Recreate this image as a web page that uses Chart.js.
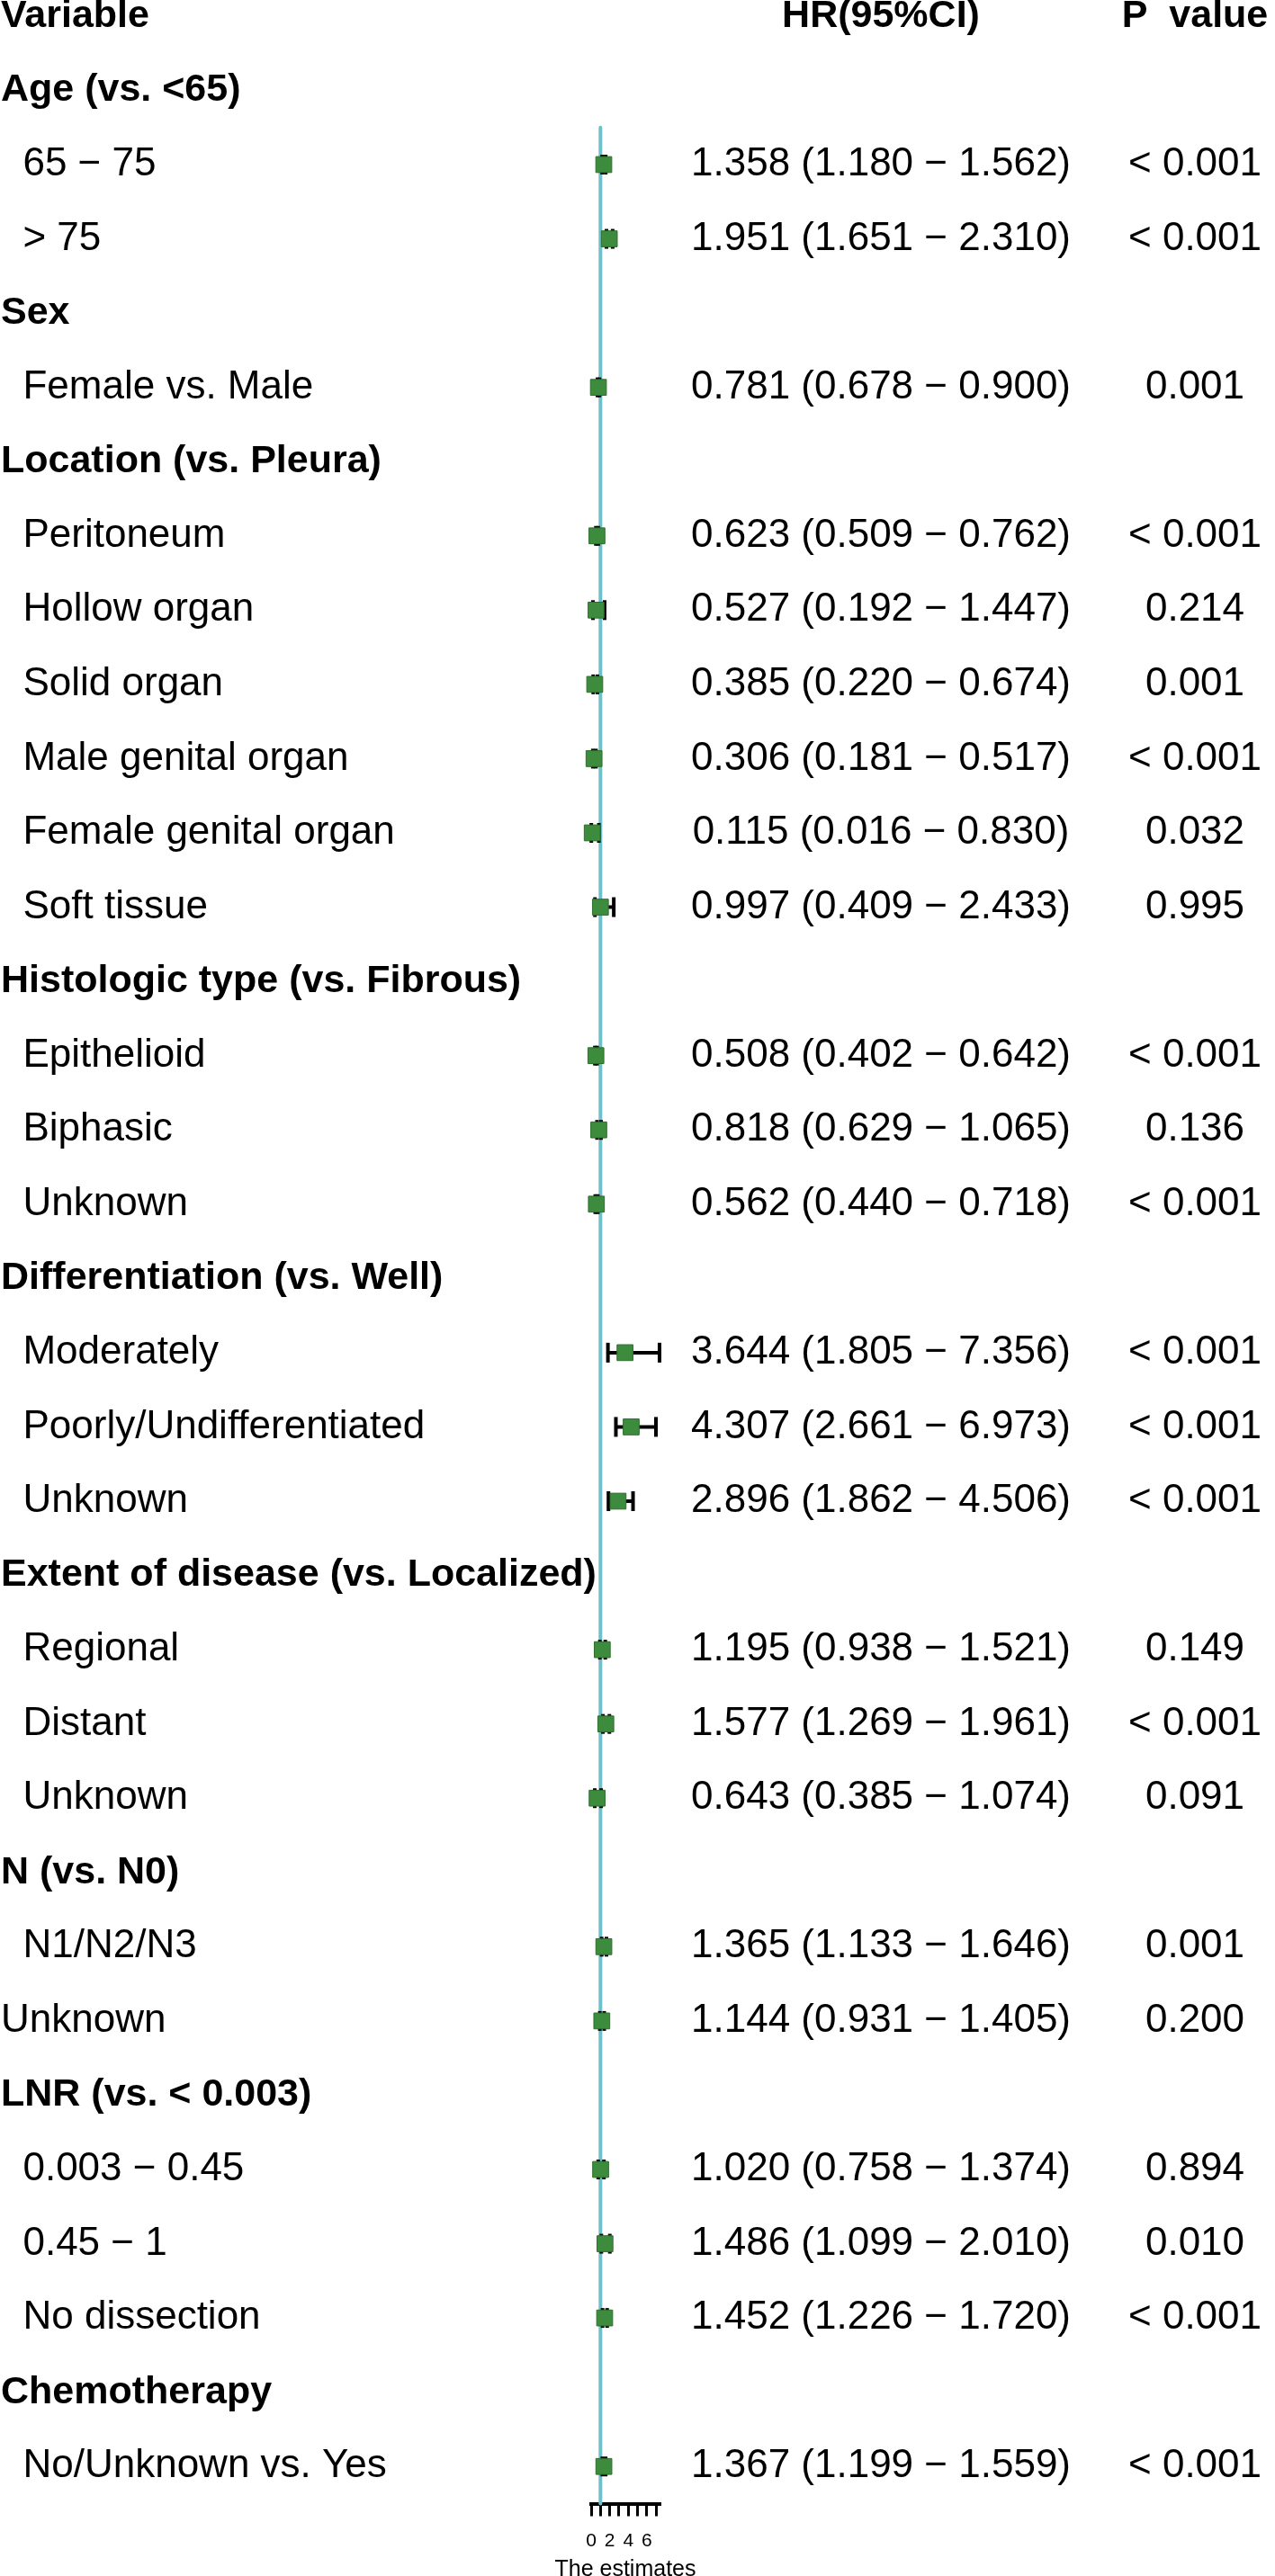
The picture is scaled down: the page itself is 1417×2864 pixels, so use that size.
<!DOCTYPE html>
<html>
<head>
<meta charset="utf-8">
<script src="https://cdn.jsdelivr.net/npm/chart.js@4.4.1/dist/chart.umd.min.js"></script>
<style>
html,body{margin:0;padding:0;background:#fff;}
canvas{display:block;}
</style>
</head>
<body>
<canvas id="c" width="1417" height="2864"></canvas>
<script>
// ---------------- data ----------------
const columnHeaders = ['Variable', 'HR(95%CI)', 'P  value'];
const rowLabels = [
  'Age (vs. <65)', '  65 − 75', '  > 75',
  'Sex', '  Female vs. Male',
  'Location (vs. Pleura)', '  Peritoneum', '  Hollow organ', '  Solid organ', '  Male genital organ', '  Female genital organ', '  Soft tissue',
  'Histologic type (vs. Fibrous)', '  Epithelioid', '  Biphasic', '  Unknown',
  'Differentiation (vs. Well)', '  Moderately', '  Poorly/Undifferentiated', '  Unknown',
  'Extent of disease (vs. Localized)', '  Regional', '  Distant', '  Unknown',
  'N (vs. N0)', '  N1/N2/N3', 'Unknown',
  'LNR (vs. < 0.003)', '  0.003 − 0.45', '  0.45 − 1', '  No dissection',
  'Chemotherapy', '  No/Unknown vs. Yes'
];
const hr = [null,1.358,1.951, null,0.781, null,0.623,0.527,0.385,0.306,0.115,0.997, null,0.508,0.818,0.562, null,3.644,4.307,2.896, null,1.195,1.577,0.643, null,1.365,1.144, null,1.020,1.486,1.452, null,1.367];
const ciLower = [null,1.180,1.651, null,0.678, null,0.509,0.192,0.220,0.181,0.016,0.409, null,0.402,0.629,0.440, null,1.805,2.661,1.862, null,0.938,1.269,0.385, null,1.133,0.931, null,0.758,1.099,1.226, null,1.199];
const ciUpper = [null,1.562,2.310, null,0.900, null,0.762,1.447,0.674,0.517,0.830,2.433, null,0.642,1.065,0.718, null,7.356,6.973,4.506, null,1.521,1.961,1.074, null,1.646,1.405, null,1.374,2.010,1.720, null,1.559];
const pValues = ['','< 0.001','< 0.001', '','0.001', '','< 0.001','0.214','0.001','< 0.001','0.032','0.995', '','< 0.001','0.136','< 0.001', '','< 0.001','< 0.001','< 0.001', '','0.149','< 0.001','0.091', '','0.001','0.200', '','0.894','0.010','< 0.001', '','< 0.001'];
const xTickValues = [0,1,2,3,4,5,6,7];
const xTickLabels = ['0','','2','','4','','6',''];
const xAxisTitle = 'The estimates';
const refValue = 1;

// ---------------- build ----------------
const FAM = '"Liberation Sans", Arial, Helvetica, sans-serif';
const FS = 44, FS_BOLD = 43;
const rowOf = i => i + 1;   // row 0 is the column header
const boxPts = [], capPts = [], ciPts = [];
hr.forEach((v, i) => {
  if (v == null) return;
  const r = rowOf(i);
  boxPts.push({x: v, y: r});
  capPts.push({x: ciLower[i], y: r}, {x: ciUpper[i], y: r});
  ciPts.push({x: ciLower[i], y: r}, {x: ciUpper[i], y: r}, {x: null, y: null});
});
const yMin = 1.5, yMax = rowLabels.length + 0.5;
const hrText = i => `${hr[i].toFixed(3)} (${ciLower[i].toFixed(3)} − ${ciUpper[i].toFixed(3)})`;

const textPlugin = {
  id: 'forestText',
  afterDraw(chart) {
    const ctx = chart.ctx, ys = chart.scales.y, xs = chart.scales.x;
    ctx.save();
    ctx.fillStyle = '#000';
    ctx.textBaseline = 'middle';
    const y0 = ys.getPixelForValue(0);
    ctx.font = `bold ${FS_BOLD}px ${FAM}`;
    ctx.textAlign = 'left';
    ctx.fillText(columnHeaders[0], 1, y0);
    ctx.textAlign = 'center';
    ctx.fillText(columnHeaders[1], 979, y0);
    ctx.fillText(columnHeaders[2], 1328, y0);
    rowLabels.forEach((lab, i) => {
      const y = ys.getPixelForValue(rowOf(i));
      const isGroup = hr[i] == null;
      ctx.font = isGroup ? `bold ${FS_BOLD}px ${FAM}` : `${FS}px ${FAM}`;
      ctx.textAlign = 'left';
      ctx.fillText(lab, 1, y);
      if (!isGroup) {
        ctx.font = `${FS}px ${FAM}`;
        ctx.textAlign = 'center';
        ctx.fillText(hrText(i), 979, y);
        ctx.fillText(pValues[i], 1328, y);
      }
    });
    // x-axis title (drawn here so it is not squeezed to the narrow axis width)
    ctx.font = `25px ${FAM}`;
    ctx.textAlign = 'center';
    ctx.fillText(xAxisTitle, (xs.left + xs.right) / 2, 2857);
    ctx.restore();
  }
};

new Chart(document.getElementById('c'), {
  type: 'scatter',
  data: {
    datasets: [
      { // boxes
        data: boxPts, order: 1, clip: false,
        pointStyle: 'rect', pointRadius: 12.5,
        pointBackgroundColor: '#3d8b3d', pointBorderColor: '#2e6e2e', pointBorderWidth: 1
      },
      { // CI caps
        data: capPts, order: 2, clip: false,
        pointStyle: 'line', pointRotation: 90, pointRadius: 11,
        pointBorderColor: '#000', pointBorderWidth: 4
      },
      { // CI lines
        data: ciPts, order: 3, clip: false, showLine: true, spanGaps: false,
        borderColor: '#000', borderWidth: 4, pointRadius: 0
      },
      { // reference line
        data: [{x: refValue, y: yMin}, {x: refValue, y: yMax}], order: 4, clip: false, showLine: true,
        borderColor: '#6fc0ca', borderWidth: 4, borderCapStyle: 'round', pointRadius: 0
      }
    ]
  },
  options: {
    responsive: false,
    devicePixelRatio: 1,
    animation: false,
    events: [],
    layout: { padding: { top: 141.7, left: 657, right: 684, bottom: 0 } },
    plugins: { legend: { display: false }, tooltip: { enabled: false } },
    scales: {
      y: { type: 'linear', display: false, reverse: true, min: yMin, max: yMax },
      x: {
        type: 'linear', min: 0, max: 7.36,
        afterBuildTicks: s => { s.ticks = xTickValues.map(v => ({value: v})); },
        afterFit: s => { s.height = 80.5; },
        grid: { display: true, drawOnChartArea: false, drawTicks: true, tickLength: 14, lineWidth: 3, color: '#000' },
        border: { display: true, color: '#000', width: 4 },
        ticks: { padding: 15, color: '#000', font: { family: FAM, size: 21 }, maxRotation: 0, autoSkip: false,
                 callback: (v, i) => xTickLabels[i] },
        title: { display: false }
      }
    }
  },
  plugins: [textPlugin]
});
</script>
</body>
</html>
